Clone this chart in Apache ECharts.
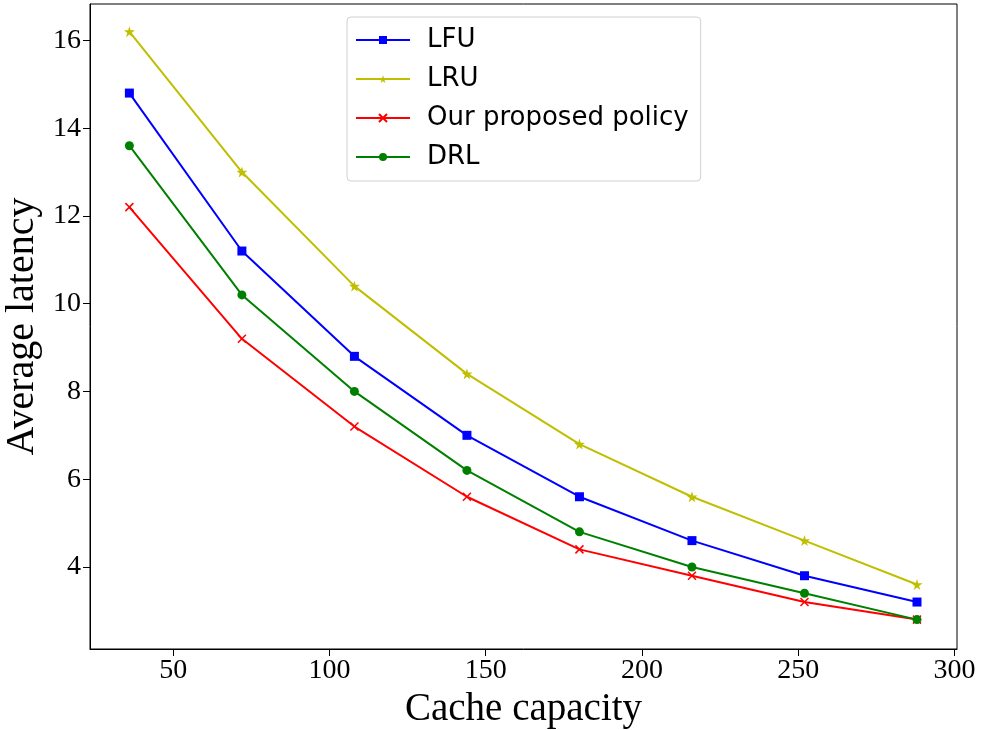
<!DOCTYPE html>
<html>
<head>
<meta charset="utf-8">
<script src="https://cdn.jsdelivr.net/npm/echarts@6/dist/echarts.min.js"></script>
<style>
html,body{margin:0;padding:0;background:#fff;}
#main{width:981px;height:730px;}
</style>
</head>
<body>
<div id="main"></div>
<script>
// ---- data ----
var capacity = [36, 72, 108, 144, 180, 216, 252, 288];
var lfu = [14.8, 11.2, 8.8, 7.0, 5.6, 4.6, 3.8, 3.2];
var lru = [16.2, 13.0, 10.4, 8.4, 6.8, 5.6, 4.6, 3.6];
var ours = [12.2, 9.2, 7.2, 5.6, 4.4, 3.8, 3.2, 2.8];
var drl = [13.6, 10.2, 8.0, 6.2, 4.8, 4.0, 3.4, 2.8];
var xTicks = [50, 100, 150, 200, 250, 300];
var yTicks = [4, 6, 8, 10, 12, 14, 16];
var seriesNames = ['LFU', 'LRU', 'Our proposed policy', 'DRL'];

function pairs(ys) { return capacity.map(function (x, i) { return [x, ys[i]]; }); }

var starPath = 'path://M50,0 L61,35 L98,35 L68,57 L79,91 L50,70 L21,91 L32,57 L2,35 L39,35 Z';
var crossPath = 'path://M0,0 L10,10 M10,0 L0,10';

var chart = echarts.init(document.getElementById('main'), null, {renderer: 'canvas'});
var serif = '"Liberation Serif", "Times New Roman", serif';

function mk(name, data, color, symbol, size, extra) {
  return {
    name: name, type: 'line', data: pairs(data),
    symbol: symbol, symbolSize: size, showSymbol: true,
    lineStyle: {color: color, width: 2},
    itemStyle: Object.assign({color: color}, extra || {}),
    emphasis: {disabled: true},
    animation: false, z: 3
  };
}

chart.setOption({
  backgroundColor: '#ffffff',
  animation: false,
  grid: {left: 90, right: 24, top: 4, bottom: 81, outerBoundsMode: 'none', containLabel: false,
         show: true, borderColor: '#000', borderWidth: 1, backgroundColor: 'transparent'},
  legend: {
    data: seriesNames,
    orient: 'vertical',
    left: 347, top: 17,
    padding: [8, 12, 9, 8],
    itemWidth: 54, itemHeight: 10, itemGap: 9,
    borderColor: '#d0d0d0', borderWidth: 1, borderRadius: 4,
    backgroundColor: '#ffffff',
    textStyle: {fontFamily: '"DejaVu Sans", sans-serif', fontSize: 26, color: '#000', lineHeight: 30, padding: [0, 0, 0, 12]}
  },
  xAxis: {
    type: 'value', min: 23.4, max: 300.8,
    name: 'Cache capacity', nameLocation: 'middle', nameGap: 37,
    nameTextStyle: {fontFamily: serif, fontSize: 39, color: '#000'},
    axisLine: {show: true, onZero: false, lineStyle: {color: '#000', width: 1}},
    axisTick: {show: true, inside: false, length: 7, customValues: xTicks, lineStyle: {color: '#000'}},
    axisLabel: {customValues: xTicks, fontFamily: serif, fontSize: 28, color: '#000', margin: 8},
    splitLine: {show: false}
  },
  yAxis: {
    type: 'value', min: 2.13, max: 16.83,
    name: 'Average latency', nameLocation: 'middle', nameGap: 45, nameRotate: 90,
    nameTextStyle: {fontFamily: serif, fontSize: 40, color: '#000'},
    axisLine: {show: true, onZero: false, lineStyle: {color: '#000', width: 1}},
    axisTick: {show: true, inside: false, length: 7, customValues: yTicks, lineStyle: {color: '#000'}},
    axisLabel: {customValues: yTicks, fontFamily: serif, fontSize: 28, color: '#000', margin: 9},
    splitLine: {show: false}
  },
  series: [
    mk(seriesNames[0], lfu, '#0000ff', 'rect', 9),
    mk(seriesNames[1], lru, '#bfbf00', starPath, 11),
    mk(seriesNames[2], ours, '#ff0000', crossPath, 8, {borderColor: '#ff0000', borderWidth: 1.5}),
    mk(seriesNames[3], drl, '#008000', 'circle', 9)
  ]
});
</script>
</body>
</html>
